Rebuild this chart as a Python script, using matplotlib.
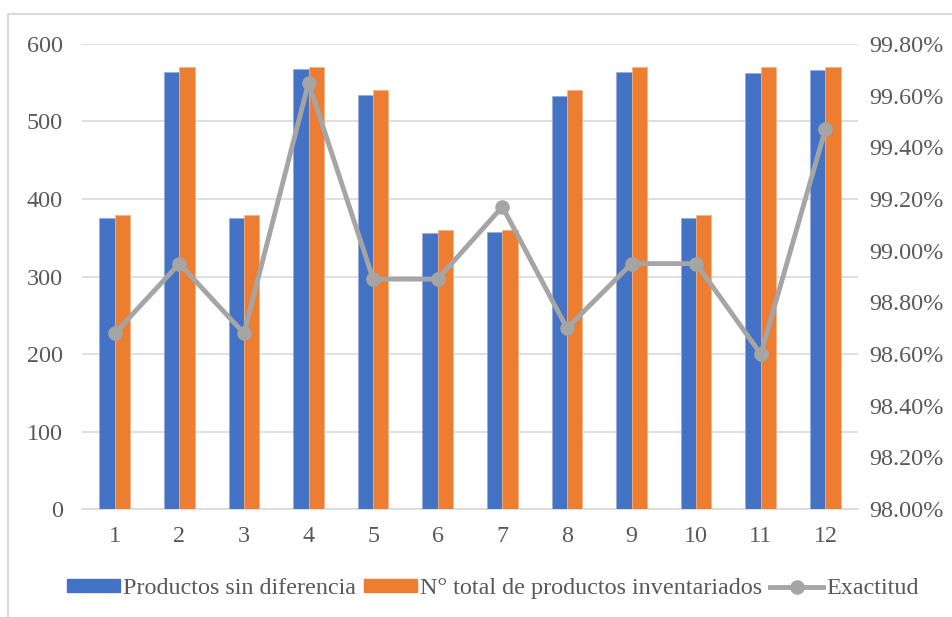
import matplotlib
matplotlib.use("Agg")
import matplotlib.pyplot as plt
import numpy as np
from matplotlib.patches import Rectangle
from matplotlib.lines import Line2D
from matplotlib.ticker import FuncFormatter

# inventory counts per audit
semanas = ["1", "2", "3", "4", "5", "6", "7", "8", "9", "10", "11", "12"]
sin_diferencia = [375, 564, 375, 568, 534, 356, 357, 533, 564, 376, 562, 567]
total_inventariado = [380, 570, 380, 570, 540, 360, 360, 540, 570, 380, 570, 570]
exactitud = [98.68, 98.95, 98.68, 99.65, 98.89, 98.89, 99.17, 98.70, 98.95,
             98.95, 98.60, 99.47]

plt.rcParams["font.family"] = ["Liberation Serif", "DejaVu Serif"]
gris_texto = "#595959"
fs = 17.4

fig = plt.figure(figsize=(9.53, 6.17), dpi=100)
fig.patches.append(Rectangle((8 / 953, -0.1), 1.2, 1 - 14 / 617 + 0.1,
                             transform=fig.transFigure, fill=False,
                             edgecolor="#d9d9d9", linewidth=1.5))

ax = fig.add_axes([0.0865, 0.175, 0.8135, 0.7537])
x = np.arange(len(semanas))
w = 0.237
ax.bar(x - w / 2, sin_diferencia, w, color="#4472c4", edgecolor="#8faadc",
       linewidth=0.5, zorder=3)
ax.bar(x + w / 2, total_inventariado, w, color="#ed7d31", edgecolor="#f4b183",
       linewidth=0.5, zorder=3)
ax.set_xlim(-0.5, len(semanas) - 0.5)
ax.set_ylim(0, 600)
ax.set_yticks(range(0, 601, 100))
ax.set_xticks(x)
ax.set_xticklabels(semanas)
ax.grid(axis="y", color="#d9d9d9", linewidth=1.2, zorder=0)
for s in ["top", "right", "left"]:
    ax.spines[s].set_visible(False)
ax.spines["bottom"].set_color("#d9d9d9")
ax.spines["bottom"].set_linewidth(1.2)
ax.tick_params(length=0, labelsize=fs, labelcolor=gris_texto)
ax.tick_params(axis="y", pad=14)
ax.tick_params(axis="x", pad=12)

ax2 = ax.twinx()
ax2.plot(x, exactitud, color="#a5a5a5", linewidth=3.5, marker="o",
         markersize=9.5, zorder=4)
ax2.set_ylim(98.0, 99.8)
ax2.set_yticks(np.arange(98.0, 99.81, 0.2))
ax2.yaxis.set_major_formatter(FuncFormatter(lambda v, p: "%.2f%%" % v))
for s in ["top", "right", "left", "bottom"]:
    ax2.spines[s].set_visible(False)
ax2.tick_params(length=0, labelsize=fs, labelcolor=gris_texto, pad=8)

handles = [Rectangle((0, 0), 1, 1, color="#4472c4"),
           Rectangle((0, 0), 1, 1, color="#ed7d31"),
           Line2D([], [], color="#a5a5a5", linewidth=3.5, marker="o",
                  markersize=9.5)]
labels = ["Productos sin diferencia", "N° total de productos inventariados",
          "Exactitud"]
leg = fig.legend(handles, labels, loc="center", bbox_to_anchor=(0.517, 0.046),
                 ncol=3, frameon=False, fontsize=fs, handlelength=2.2,
                 handleheight=0.42, handletextpad=0.1, columnspacing=0.35)
for t in leg.get_texts():
    t.set_color(gris_texto)

fig.savefig("out.png", dpi=100)
